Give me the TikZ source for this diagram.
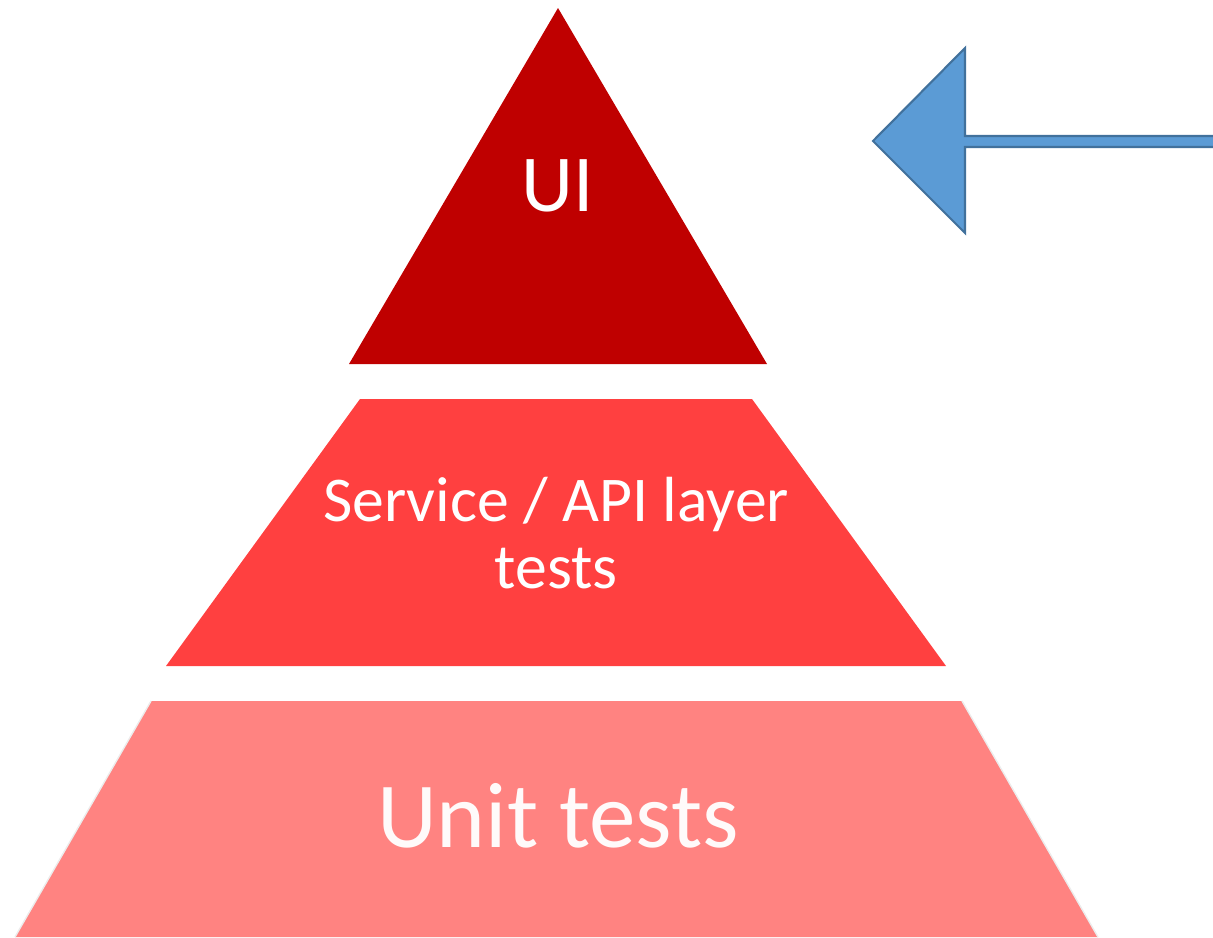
\documentclass[tikz,border=0pt]{standalone}
\usepackage{fontspec}
\setmainfont{Carlito}
\usepackage{tikz}

\definecolor{uired}{RGB}{191,0,0}
\definecolor{apired}{RGB}{255,64,64}
\definecolor{unitred}{RGB}{255,131,129}
\definecolor{arrowblue}{RGB}{91,155,213}
\definecolor{arrowedge}{RGB}{65,113,156}

\tikzset{
  layer/.style={draw=none},
  layertext/.style={text=white, align=center, inner sep=0pt},
  pointer/.style={fill=arrowblue, draw=arrowedge, line width=1.2pt, line join=miter}
}

\begin{document}
\begin{tikzpicture}[x=0.02cm,y=-0.02cm]
\useasboundingbox (0,0) rectangle (1213,937);

% definitions
\coordinate (A) at (558,8);
\coordinate (B) at (349,364);
\coordinate (C) at (767,364);
\coordinate (D) at (360,399);
\coordinate (E) at (752,399);
\coordinate (F) at (946,666);
\coordinate (G) at (166,666);
\coordinate (H) at (151,701);
\coordinate (I) at (962,701);
\coordinate (J) at (1098,937);
\coordinate (K) at (15,937);

% drawing
\fill[layer, fill=unitred] (H) -- (I) -- (J) -- (K) -- cycle;
\draw[white!85!gray, line width=0.8pt] (K) -- (H) (I) -- (J);
\fill[layer, fill=apired] (D) -- (E) -- (F) -- (G) -- cycle;
\fill[layer, fill=uired] (A) -- (C) -- (B) -- cycle;

\draw[pointer] (873,141) -- (965,48) -- (965,136) -- (1220,136)
  -- (1220,147) -- (965,147) -- (965,233) -- cycle;

% labels
\node[layertext, font=\fontsize{46}{50}\selectfont] (ui) at (558,186) {UI};
\node[layertext, font=\fontsize{36.3}{38.6}\selectfont] (api) at (556,533)
  {Service / API layer\\tests};
\node[layertext, font=\fontsize{53}{58}\selectfont, text=white!96!unitred] (unit) at (558,816) {Unit tests};
\end{tikzpicture}
\end{document}
